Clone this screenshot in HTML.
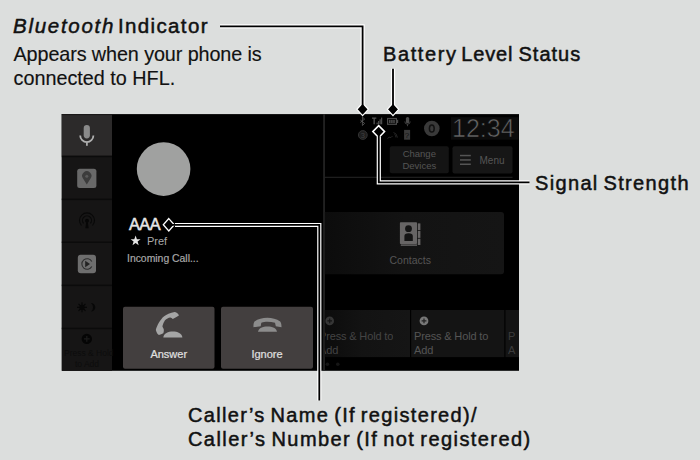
<!DOCTYPE html>
<html><head><meta charset="utf-8">
<style>
*{margin:0;padding:0;box-sizing:border-box}
html,body{width:700px;height:460px;overflow:hidden;background:#dcdedd;font-family:"Liberation Sans",sans-serif}
.a{position:absolute;white-space:nowrap}
svg.a{left:0;top:0}
.lbl{color:#111;font-size:20px;line-height:20px;-webkit-text-stroke:0.5px #111}
.dt{color:#555;font-size:10px;line-height:12px}
</style></head><body>

<!-- screen graphics -->
<svg class="a" width="700" height="460" viewBox="0 0 700 460">
  <rect x="61.8" y="114.1" width="457.2" height="256.7" fill="#000"/>
  <!-- sidebar -->
  <rect x="61.8" y="114.1" width="50.2" height="256.7" fill="#161515"/>
  <rect x="61.8" y="114.1" width="50.2" height="41.7" fill="#2c2a2a"/>
  <rect x="61.8" y="114.1" width="50.2" height="1" fill="#1a1919"/>
  <g fill="#0b0b0b">
    <rect x="61.8" y="155.7" width="50.2" height="1.5"/>
    <rect x="61.8" y="198.6" width="50.2" height="1.5"/>
    <rect x="61.8" y="241.5" width="50.2" height="1.5"/>
    <rect x="61.8" y="284.6" width="50.2" height="1.5"/>
    <rect x="61.8" y="327.7" width="50.2" height="1.5"/>
  </g>
  <!-- mic -->
  <rect x="83.7" y="124.9" width="6.2" height="13.5" rx="3.1" fill="#8a8a8a"/>
  <path d="M80.2 135.5A6.6 6.6 0 0 0 93.4 135.5" fill="none" stroke="#b0b0b0" stroke-width="1.8"/>
  <rect x="86" y="141.5" width="1.8" height="4.3" fill="#a8a8a8"/>
  <!-- map -->
  <rect x="77.2" y="168.8" width="19.2" height="19.2" rx="2.5" fill="#696969"/>
  <path d="M86.8 184.5L83.2 178.8A4.6 4.6 0 1 1 90.4 178.8Z" fill="#3c3c3c"/>
  <circle cx="86.8" cy="176.3" r="1.5" fill="#5a5a5a"/>
  <!-- podcast (dark) -->
  <g fill="none" stroke="#080808" stroke-width="1.1">
    <path d="M81.5 225.5A7.5 7.5 0 1 1 92.5 225.5"/>
    <path d="M83.6 223.4A4.5 4.5 0 1 1 90.4 223.4"/>
  </g>
  <circle cx="87" cy="220.8" r="2" fill="#060606"/>
  <path d="M86.2 222L85.3 228.3H88.7L87.8 222Z" fill="#070707"/>
  <!-- play -->
  <rect x="77.8" y="254.8" width="18.2" height="18.4" rx="3" fill="#6e6e6e"/>
  <path d="M91.8 266.6A5.3 5.3 0 1 1 91.8 261.4" fill="none" stroke="#2e2e2e" stroke-width="1.1"/>
  <path d="M85.2 260.8L90 264L85.2 267.2Z" fill="#222"/>
  <!-- sun / moon -->
  <g stroke="#070707" stroke-width="1.2">
    <path d="M82 302.3V312.3M77 307.3H87M78.5 303.8L85.5 310.8M85.5 303.8L78.5 310.8"/>
  </g>
  <circle cx="82" cy="307.3" r="2.6" fill="#070707"/>
  <path d="M91 303A4.3 4.3 0 0 1 91 311.6A5.5 5.5 0 0 0 91 303Z" fill="#070707"/>
  <!-- plus -->
  <circle cx="86.8" cy="338.9" r="5.2" fill="#050505"/>
  <path d="M86.8 336V341.8M83.9 338.9H89.7" stroke="#1c1c1c" stroke-width="1.2"/>

  <!-- avatar -->
  <circle cx="163.6" cy="169.1" r="26.8" fill="#a0a1a0"/>
  <!-- star -->
  <path d="M135.6 235.4L136.9 239.2H140.6L137.6 241.5L138.7 245.3L135.6 243L132.5 245.3L133.6 241.5L130.6 239.2H134.3Z" fill="#e6e6e6"/>

  <!-- buttons -->
  <rect x="123" y="306.8" width="91.5" height="62" rx="2" fill="#433f3f"/>
  <rect x="221" y="306.8" width="92" height="62" rx="2" fill="#433f3f"/>
  <!-- answer icon -->
  <path d="M178.5 314.6C177.5 313 176 312 174.6 312C172.5 312.2 170.5 313 168.5 313.7C165 315.5 162.8 317 161.5 318.9C159.5 321 158.2 323.5 157.2 325.9C156.2 328 155.7 329.5 155.9 330.2C156.5 332.5 157.5 334 158.9 335C160.5 334.5 162 334 163.3 333.3C163.8 331.8 164 330.5 163.7 328.9C163 328 162.6 327.2 162.4 326.3C163 324 163.8 322 165 320.2C166.5 318.9 168.5 317.9 170.2 317.6C171.2 317.8 172 318.3 172.8 318.9C175 317.8 177 316.6 178.9 315.4Z" fill="#a5a5a5"/>
  <path d="M163.3 337.4C164 329.5 181.6 329.5 182.4 337.4Z" fill="#a5a5a5"/>
  <!-- ignore icon -->
  <path d="M253.5 327.2C253.3 325 253.6 322.8 254.5 321.4C258 319 262.5 317.8 267.3 317.8C272 317.8 276.5 319 280.2 321.4C281.2 322.8 281.6 325 281.5 327.2L275.8 326.2L275 322.7C272.5 322 270 321.7 267.5 321.7C265 321.7 263.5 322 261.3 322.7L260.7 326.2Z" fill="#8c8c8c"/>
  <path d="M258 331.8C258.5 324.6 276.5 324.6 277 331.8Z" fill="#8c8c8c"/>

  <!-- divider -->
  <rect x="323.3" y="114.1" width="1.5" height="256.7" fill="#2a2a2a"/>

  <!-- status icons -->
  <g fill="none" stroke="#555" stroke-width="0.9">
    <path d="M360.3 120L364.6 123.4L362.4 125.5V117L364.6 119.1L360.3 122.5"/>
  </g>
  <g fill="#555">
    <path d="M372 117.6H376.3V118.8H374.8V124.3H373.5V118.8H372Z"/>
    <rect x="376.6" y="122.6" width="1.1" height="1.7"/><rect x="378.1" y="121" width="1.1" height="3.3"/><rect x="379.6" y="119.3" width="1.1" height="5"/><rect x="381.1" y="117.6" width="1.1" height="6.7"/>
  </g>
  <rect x="387.6" y="118.5" width="8.8" height="5.8" fill="none" stroke="#4a4a4a" stroke-width="1.2"/>
  <rect x="396.8" y="119.8" width="1.4" height="3.2" fill="#4a4a4a"/>
  <g fill="#4a4a4a"><rect x="389" y="119.8" width="1.6" height="3.3"/><rect x="391.1" y="119.8" width="1.6" height="3.3"/><rect x="393.2" y="119.8" width="1.6" height="3.3"/></g>
  <rect x="405.9" y="117" width="3.3" height="6.3" rx="1.6" fill="#4a4a4a"/>
  <path d="M404.8 121.5A2.7 2.7 0 0 0 410.2 121.5M407.5 124.2V126.2" fill="none" stroke="#444" stroke-width="0.9"/>
  <circle cx="362.8" cy="135" r="4.4" fill="#1e1e1e" stroke="#333" stroke-width="1"/>
  <text x="362.8" y="137.7" font-size="7.5" fill="#404040" text-anchor="middle" font-family="Liberation Sans">3</text>
  <path d="M387.5 138.5Q389 136.5 391 137.5L392.5 136M393.5 132.5Q396.5 133 397.5 137.5M394.5 134.5Q396 135.5 396 137.5" fill="none" stroke="#262626" stroke-width="1"/>
  <rect x="404.1" y="129.9" width="6" height="9.8" fill="#3a3a3a"/>
  <text x="407.1" y="137.8" font-size="8" fill="#111" text-anchor="middle" font-family="Liberation Sans">?</text>
  <circle cx="431.8" cy="128.5" r="7.8" fill="#393939"/>
  <ellipse cx="431.8" cy="128.5" rx="2.4" ry="3.6" fill="none" stroke="#121212" stroke-width="1.5"/>
  <rect x="451" y="117.2" width="67.5" height="22.5" fill="#0c0c0c"/>

  <!-- buttons right -->
  <rect x="389.8" y="146.2" width="59" height="27" rx="2" fill="#141414"/>
  <rect x="452.5" y="146.2" width="60" height="27.3" rx="2" fill="#161616"/>
  <g fill="#555"><rect x="460" y="154.8" width="10.8" height="1.5"/><rect x="460" y="159.2" width="10.8" height="1.5"/><rect x="460" y="163.5" width="10.8" height="1.5"/></g>
  <rect x="324.8" y="176.8" width="187.7" height="0.9" fill="#2c2c2c"/>

  <!-- contacts -->
  <defs><linearGradient id="cg" x1="0" x2="1" y1="0" y2="0"><stop offset="0" stop-color="#0c0c0c"/><stop offset="0.45" stop-color="#131313"/><stop offset="1" stop-color="#151515"/></linearGradient></defs>
  <path d="M324.8 212.1H501A3 3 0 0 1 504 215.1V271.3A3 3 0 0 1 501 274.3H324.8Z" fill="url(#cg)"/>
  <rect x="399.9" y="222.2" width="17.1" height="21.9" rx="0.8" fill="#676565"/>
  <rect x="400.8" y="244.4" width="16.2" height="1.4" fill="#676565"/>
  <g fill="#676565"><rect x="417.8" y="223.4" width="2.6" height="6.7"/><rect x="417.8" y="230.9" width="2.6" height="7"/><rect x="417.8" y="238.7" width="2.6" height="6.3"/></g>
  <circle cx="408.5" cy="228.7" r="3.4" fill="#141414"/>
  <path d="M404.4 241V236Q404.4 233.3 408.6 233.3Q412.8 233.3 412.8 236V241Z" fill="#141414"/>

  <!-- tiles -->
  <rect x="324.8" y="310" width="85.2" height="47.1" fill="url(#cg)"/>
  <rect x="411.2" y="310" width="93.1" height="47.1" fill="#141414"/>
  <rect x="505.5" y="310" width="13.5" height="47.1" fill="#141414"/>
  <circle cx="329.7" cy="320.9" r="4.3" fill="#363636"/>
  <path d="M329.7 318.6V323.2M327.4 320.9H332" stroke="#141414" stroke-width="1.1"/>
  <circle cx="424" cy="320.9" r="4.4" fill="#777"/>
  <path d="M424 318.5V323.3M421.6 320.9H426.4" stroke="#222" stroke-width="1.2"/>
  <circle cx="327.4" cy="364.3" r="1.8" fill="#161616"/>
  <circle cx="337.8" cy="364.3" r="1.8" fill="#161616"/>
</svg>

<!-- screen text -->
<div class="a" style="left:129px;top:213.5px;color:#e6e6e6;font-size:16.3px;line-height:20px;letter-spacing:-0.5px;-webkit-text-stroke:0.5px #e6e6e6">AAA</div>
<div class="a" style="left:147px;top:234px;color:#aaa;font-size:11px;line-height:14px">Pref</div>
<div class="a" style="left:127px;top:251.5px;color:#a8a8a8;font-size:10.4px;line-height:14px;letter-spacing:0px;-webkit-text-stroke:0.2px #a8a8a8">Incoming Call...</div>
<div class="a" style="left:123px;top:347px;width:91.5px;text-align:center;color:#e0e0e0;font-size:11px;line-height:14px;-webkit-text-stroke:0.2px #e0e0e0">Answer</div>
<div class="a" style="left:221px;top:347px;width:92px;text-align:center;color:#e0e0e0;font-size:11px;line-height:14px;-webkit-text-stroke:0.2px #e0e0e0">Ignore</div>

<div class="a" style="left:64px;top:347.5px;color:#0c0c0c;font-size:8.5px;line-height:11.5px;width:46px;text-align:center">Press &amp; Hold<br>to Add</div>

<div class="a" style="left:452px;top:113px;color:#666;font-size:25px;line-height:30px;-webkit-text-stroke:0.6px #0c0c0c">12:34</div>
<div class="a dt" style="left:389.8px;top:147.5px;width:59px;text-align:center;font-size:9.5px;line-height:12.5px">Change<br>Devices</div>
<div class="a dt" style="left:479.5px;top:154.5px">Menu</div>
<div class="a dt" style="left:389.5px;top:253.5px;font-size:10.5px">Contacts</div>
<div class="a dt" style="left:414px;top:329px;font-size:11px;line-height:14px;letter-spacing:-0.15px">Press &amp; Hold to<br>Add</div>
<div class="a dt" style="left:319px;top:329px;font-size:11px;line-height:14px;letter-spacing:-0.15px;color:#444;clip-path:inset(0 0 0 5.8px)">Press &amp; Hold to<br>Add</div>
<div class="a dt" style="left:508px;top:329px;font-size:11px;line-height:14px;color:#3c3c3c;width:11px;overflow:hidden">P<br>A</div>

<!-- annotation labels -->
<div class="a lbl" style="left:13px;top:14px;font-size:20.5px;line-height:24px;letter-spacing:1.36px"><i style="letter-spacing:1.72px">Bluetooth</i><span style="word-spacing:-4.2px"> </span>Indicator</div>
<div class="a lbl" style="left:13.5px;top:43px;font-size:19.8px;line-height:23.5px;letter-spacing:-0.1px;-webkit-text-stroke:0.15px #111">Appears when your phone is<br><span style="letter-spacing:0">connected to HFL.</span></div>
<div class="a lbl" style="left:383px;top:44px;letter-spacing:1px"><span style="letter-spacing:1.6px">Battery</span><span style="word-spacing:-3px"> </span><span style="letter-spacing:0.9px">Level</span><span style="word-spacing:-1.5px"> </span>Status</div>
<div class="a lbl" style="left:535px;top:173px;letter-spacing:1.34px;word-spacing:-2px">Signal Strength</div>
<div class="a lbl" style="left:188px;top:403px;line-height:24px;letter-spacing:1.33px;word-spacing:-2px">Caller’s Name (If registered)/<br><span style="letter-spacing:1.43px">Caller’s Number (If not registered)</span></div>

<!-- annotation lines -->
<svg class="a" width="700" height="460" viewBox="0 0 700 460">
  <g fill="none" stroke="#fff" stroke-width="4.2">
    <path d="M220 26.3H362.6V104"/>
    <path d="M393 68.7V104"/>
    <path d="M378.8 137V182.3H529.5"/>
    <path d="M175 225H319.3V400.6"/>
  </g>
  <path d="M362.6 103L368.3 109.3L362.6 115.6L356.9 109.3Z" fill="#000" stroke="#fff" stroke-width="1.2"/>
  <path d="M393 103L398.7 109.3L393 115.6L387.3 109.3Z" fill="#000" stroke="#fff" stroke-width="1.2"/>
  <path d="M378.7 125.6L384.6 131.6L378.7 137.6L372.8 131.6Z" fill="#000" stroke="#fff" stroke-width="1.5"/>
  <path d="M168.8 218.6L174.3 224.8L168.8 231L163.3 224.8Z" fill="#000" stroke="#fff" stroke-width="1.3"/>
  <g fill="none" stroke="#000" stroke-width="1.8">
    <path d="M220 26.3H362.6V109"/>
    <path d="M393 68.7V109"/>
    <path d="M378.8 131.6V182.3H529.5"/>
    <path d="M169 224.8H319.3V400.6"/>
  </g>
</svg>
</body></html>
